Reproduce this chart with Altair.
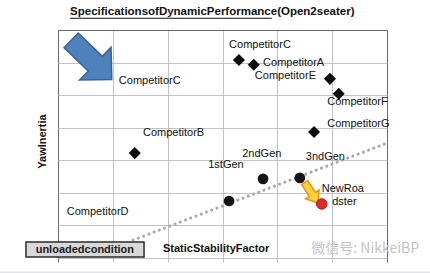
import altair as alt
import pandas as pd

# Vehicles: static stability factor (x) against yaw inertia (y), in grid units
car_names = ["CompetitorC", "CompetitorA", "CompetitorE", "CompetitorF", "CompetitorG",
             "CompetitorB", "1stGen", "2ndGen", "3ndGen", "NewRoadster"]
car_ssf = [3.30, 3.57, 4.96, 5.12, 4.67, 1.40, 3.12, 3.74, 4.41, 4.81]
car_yaw = [6.08, 5.93, 5.50, 5.04, 3.87, 3.22, 1.75, 2.43, 2.46, 1.66]
car_group = ["competitor", "competitor", "competitor", "competitor", "competitor",
             "competitor", "own", "own", "own", "new"]

# Free-standing labels (left edge, vertical centre)
label_text = ["CompetitorC", "CompetitorA", "CompetitorE", "CompetitorF", "CompetitorG",
              "CompetitorB", "CompetitorC", "2ndGen", "3ndGen", "1stGen",
              "NewRoa", "dster", "CompetitorD"]
label_x = [3.12, 3.74, 3.59, 4.91, 4.91, 1.55, 1.11, 3.36, 4.52, 2.74, 4.81, 5.00, 0.16]
label_y = [6.54, 5.99, 5.59, 4.79, 4.11, 3.84, 5.43, 3.19, 3.10, 2.86, 2.12, 1.72, 1.41]

# Dotted trend through the own generations
trend_x = [1.37, 6.00]
trend_y = [0.55, 3.53]

# Arrow call-outs: centres
arrow_x = [0.61, 4.62]
arrow_y = [6.08, 2.00]

# Headline and captions placed in data space
title_text = "SpecificationsofDynamicPerformance(Open2seater)"
title_pos = (0.22, 7.55)
underline_span = (0.22, 3.90, 7.36)
xtitle_text = "StaticStabilityFactor"
xtitle_pos = (1.915, 0.27)
box_text = "unloadedcondition"
box_span = (-0.584, 1.569, 0.49, 0.03)
box_text_pos = (0.49, 0.26)
mark_text = "微信号: NikkeiBP"
mark_pos = (4.62, 0.28)
footer_span = (-1.06, 6.79, -0.445)

FONT = "Liberation Sans"

xscale = alt.Scale(domain=[0, 6], nice=False, zero=False)
yscale = alt.Scale(domain=[0, 7], nice=False, zero=False)

xaxis = alt.Axis(
    values=[0, 1, 2, 3, 4, 5, 6], labels=False, domain=False, title="",
    tickSize=4, tickWidth=1, gridWidth=1,
    gridColor={"condition": {"test": "datum.value === 0 || datum.value === 6", "value": "#6a6a6a"},
               "value": "#c2c2c2"},
    tickColor={"condition": {"test": "datum.value === 0 || datum.value === 6", "value": "#6a6a6a"},
               "value": "#c2c2c2"},
)
yaxis = alt.Axis(
    values=[0, 1, 2, 3, 4, 5, 6, 7], labels=False, ticks=False, domain=False,
    title="YawInertia", titleFont=FONT, titleFontSize=11, titleFontWeight="bold",
    titleColor="#111111", titleX=-16, titleY=111, titleAngle=270,
    titleAlign="center", titleBaseline="middle", gridWidth=1,
    gridColor={"condition": {"test": "datum.value === 7", "value": "#6a6a6a"},
               "value": "#c2c2c2"},
)

X = alt.X("x:Q", scale=xscale, axis=xaxis)
Y = alt.Y("y:Q", scale=yscale, axis=yaxis)

cars = pd.DataFrame({"name": car_names, "x": car_ssf, "y": car_yaw, "group": car_group})
labels = pd.DataFrame({"text": label_text, "x": label_x, "y": label_y})
trend = pd.DataFrame({"x": trend_x, "y": trend_y})

trend_layer = alt.Chart(trend).mark_line(
    color="#a8a8a8", strokeWidth=3, strokeDash=[0.1, 5.5], strokeCap="round"
).encode(x=X, y=Y)

big_arrow_path = "M -1 -0.36 L 0.19 -0.36 L 0.19 -0.8 L 1 0 L 0.19 0.8 L 0.19 0.36 L -1 0.36 Z"
small_arrow_path = "M -1 -0.3 L 0.15 -0.3 L 0.15 -0.65 L 1 0 L 0.15 0.65 L 0.15 0.3 L -1 0.3 Z"

big_arrow = alt.Chart(pd.DataFrame({"x": arrow_x[:1], "y": arrow_y[:1]})).mark_point(
    shape=big_arrow_path, filled=True, fill="#4f81bd", stroke="#3a6395", strokeWidth=1.5,
    opacity=1, size=3200, angle=44
).encode(x=X, y=Y)

small_arrow = alt.Chart(pd.DataFrame({"x": arrow_x[1:], "y": arrow_y[1:]})).mark_point(
    shape=small_arrow_path, filled=True, fill="#f7d33a", stroke="#e8901c", strokeWidth=1.5,
    opacity=1, size=600, angle=57
).encode(x=X, y=Y)

diamonds = alt.Chart(cars).transform_filter("datum.group === 'competitor'").mark_point(
    shape="diamond", filled=True, color="#0d0d0d", opacity=1, size=145
).encode(x=X, y=Y)

own_gen = alt.Chart(cars).transform_filter("datum.group === 'own'").mark_point(
    shape="circle", filled=True, color="#151515", opacity=1, size=115
).encode(x=X, y=Y)

new_car = alt.Chart(cars).transform_filter("datum.group === 'new'").mark_point(
    shape="circle", filled=True, fill="#dc2a2e", stroke="#a51a1a", strokeWidth=1,
    opacity=1, size=110
).encode(x=X, y=Y)

label_layer = alt.Chart(labels).mark_text(
    align="left", baseline="middle", font=FONT, fontSize=11, color="#111111"
).encode(x=X, y=Y, text="text:N")

title_layer = alt.Chart(pd.DataFrame({"x": [title_pos[0]], "y": [title_pos[1]], "t": [title_text]})).mark_text(
    align="left", baseline="middle", font=FONT, fontSize=11.5, fontWeight="bold", color="#111111"
).encode(x=X, y=Y, text="t:N")

underline = alt.Chart(pd.DataFrame({"x": [underline_span[0]], "x2": [underline_span[1]],
                                    "y": [underline_span[2]]})).mark_rule(
    color="#111111", strokeWidth=1
).encode(x=X, x2="x2:Q", y=Y)

xtitle = alt.Chart(pd.DataFrame({"x": [xtitle_pos[0]], "y": [xtitle_pos[1]], "t": [xtitle_text]})).mark_text(
    align="left", baseline="middle", font=FONT, fontSize=11, fontWeight="bold", color="#111111"
).encode(x=X, y=Y, text="t:N")

box = alt.Chart(pd.DataFrame({"x": [box_span[0]], "x2": [box_span[1]],
                              "y": [box_span[2]], "y2": [box_span[3]]})).mark_rect(
    fill="#d8d8d8", stroke="#2b2b2b", strokeWidth=1.5
).encode(x=X, x2="x2:Q", y=Y, y2="y2:Q")

box_label = alt.Chart(pd.DataFrame({"x": [box_text_pos[0]], "y": [box_text_pos[1]], "t": [box_text]})).mark_text(
    align="center", baseline="middle", font=FONT, fontSize=11, fontWeight="bold", color="#1a1a1a"
).encode(x=X, y=Y, text="t:N")

watermark = alt.Chart(pd.DataFrame({"x": [mark_pos[0]], "y": [mark_pos[1]], "t": [mark_text]})).mark_text(
    align="left", baseline="middle", font="Noto Sans CJK SC", fontSize=14, color="#c4c4c4"
).encode(x=X, y=Y, text="t:N")

footer = alt.Chart(pd.DataFrame({"x": [footer_span[0]], "x2": [footer_span[1]],
                                 "y": [footer_span[2]]})).mark_rule(
    color="#e2e4e8", strokeWidth=2
).encode(x=X, x2="x2:Q", y=Y)

chart = alt.layer(
    trend_layer, big_arrow, small_arrow, diamonds, own_gen, new_car, label_layer,
    title_layer, underline, xtitle, box, box_label, watermark, footer
).properties(
    width=329, height=228,
    padding={"left": 58, "top": 30, "right": 43, "bottom": 15},
    autosize=alt.AutoSizeParams(type="none"),
    background="white",
).configure_view(strokeWidth=0)

chart.save("out.html", embed_options={"renderer": "svg", "actions": False})
